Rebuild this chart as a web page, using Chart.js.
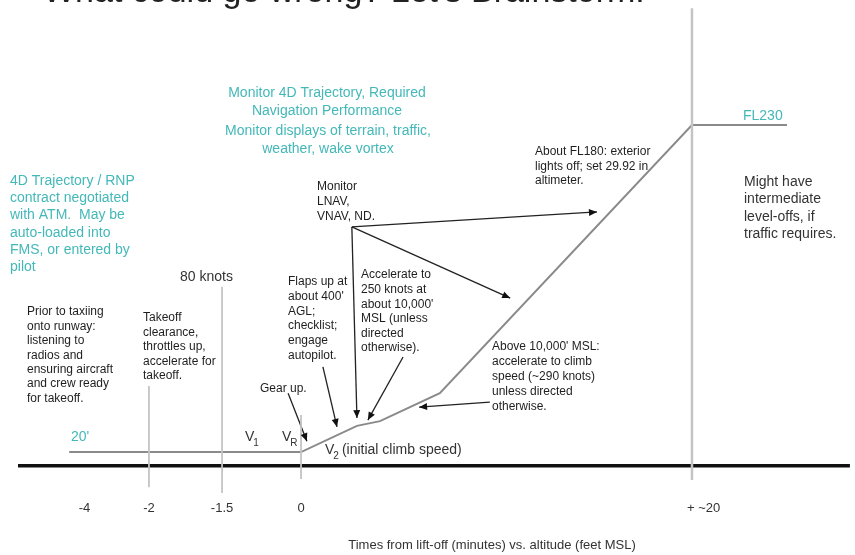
<!DOCTYPE html>
<html>
<head>
<meta charset="utf-8">
<script src="https://cdn.jsdelivr.net/npm/chart.js@4.4.1/dist/chart.umd.min.js"></script>
<style>
  html, body { margin: 0; padding: 0; background: #fff; }
  #wrap { width: 855px; height: 555px; }
</style>
</head>
<body>
<div id="wrap"><canvas id="profile" width="855" height="555"></canvas></div>
<script>
// Schematic units (diagram is not to scale):
// x: 0 = lift-off, 100 = top of climb (~20 min); y: 0 = ground, 100 = FL230
const tickLabels    = ['-4', '-2', '-1.5', '0', '+ ~20'];
const tickPositions = [-55.4, -38.9, -20.2, 0, 100];

const groundX = [-72.4, 140.4];
const groundY = [0, 0];

// runway roll, lift-off, climb segments, level-off at FL230
const profileX = [-59.3, 0, 14.3, 20.2, 35.5, 100, 124.3];
const profileY = [4.0, 4.0, 11.7, 13.1, 21.3, 100, 100];

// vertical event markers (-2, 80 knots / -1.5, lift-off, top of climb)
const markerX    = [-38.9, -20.2, 0, 100];
const markerLow  = [-6.3, -8.0, -3.9, -4.2];
const markerHigh = [23.4, 52.5, 14.9, 134.3];

// callout arrows, tail -> head
const arrowFromX = [-3.3, 5.6, 13.0, 13.0, 13.0, 26.1, 48.3];
const arrowFromY = [21.3, 29.0, 70.1, 70.1, 70.1, 31.9, 18.7];
const arrowToX   = [1.5, 9.2, 14.3, 75.7, 53.5, 17.1, 30.2];
const arrowToY   = [7.2, 11.4, 14.0, 74.5, 49.2, 13.4, 17.2];

const TEAL = '#44b8b8';
const INK  = '#1e1e1e';
const FONT = '"Liberation Sans", Arial, sans-serif';

// text blocks: [lines, x, y of first line centre, line height, size, colour, align]
const notes = [
  [['Monitor 4D Trajectory, Required', 'Navigation Performance'], 327, 93, 18, 14, TEAL, 'center'],
  [['Monitor displays of terrain, traffic,', 'weather, wake vortex'], 328, 131, 18, 14, TEAL, 'center'],
  [['4D Trajectory / RNP', 'contract negotiated', 'with ATM.  May be', 'auto-loaded into', 'FMS, or entered by', 'pilot'], 10, 181, 17.3, 14, TEAL, 'left'],
  [["20'"], 71, 437, 14, 14, TEAL, 'left'],
  [['FL230'], 743, 116, 14, 14, TEAL, 'left'],
  [['80 knots'], 180, 277, 14, 14, '#333', 'left'],
  [['Prior to taxiing', 'onto runway:', 'listening to', 'radios and', 'ensuring aircraft', 'and crew ready', 'for takeoff.'], 27, 312, 14.4, 12, INK, 'left'],
  [['Takeoff', 'clearance,', 'throttles up,', 'accelerate for', 'takeoff.'], 143, 318, 14.5, 12, INK, 'left'],
  [['Flaps up at', "about 400'", 'AGL;', 'checklist;', 'engage', 'autopilot.'], 288, 282, 14.7, 12, INK, 'left'],
  [['Gear up.'], 260, 389, 14, 12, INK, 'left'],
  [['Monitor', 'LNAV,', 'VNAV, ND.'], 317, 187, 15, 12, INK, 'left'],
  [['Accelerate to', '250 knots at', "about 10,000'", 'MSL (unless', 'directed', 'otherwise).'], 361, 275, 14.6, 12, INK, 'left'],
  [['About FL180: exterior', 'lights off; set 29.92 in', 'altimeter.'], 535, 152, 14.5, 12, INK, 'left'],
  [["Above 10,000' MSL:", 'accelerate to climb', 'speed (~290 knots)', 'unless directed', 'otherwise.'], 492, 347, 14.8, 12, INK, 'left'],
  [['Might have', 'intermediate', 'level-offs, if', 'traffic requires.'], 744, 182, 17.4, 14, '#333', 'left']
];

function drawLines(ctx, lines, x, y, lh, size, color, align) {
  ctx.font = size + 'px ' + FONT;
  ctx.fillStyle = color;
  ctx.textAlign = align;
  ctx.textBaseline = 'middle';
  lines.forEach((t, i) => ctx.fillText(t, x, y + i * lh));
}

// V-speed with subscript
function drawSpeed(ctx, sub, x, y, rest) {
  ctx.fillStyle = '#333';
  ctx.textAlign = 'left';
  ctx.textBaseline = 'middle';
  ctx.font = '14px ' + FONT;
  ctx.fillText('V', x, y);
  const w = ctx.measureText('V').width;
  ctx.font = '10px ' + FONT;
  ctx.fillText(sub, x + w - 1, y + 6);
  if (rest) {
    const sw = ctx.measureText(sub).width;
    ctx.font = '14px ' + FONT;
    ctx.fillText(rest, x + w + sw + 2, y);
  }
}

const overlay = {
  id: 'overlay',
  afterDatasetsDraw(chart) {
    const ctx = chart.ctx;
    const xs = chart.scales.x;

    // arrowheads on callouts
    chart.data.datasets.forEach((ds, i) => {
      if (!ds.arrow) return;
      const pts = chart.getDatasetMeta(i).data;
      const a = pts[pts.length - 2], b = pts[pts.length - 1];
      const ang = Math.atan2(b.y - a.y, b.x - a.x);
      ctx.save();
      ctx.translate(b.x, b.y);
      ctx.rotate(ang);
      ctx.beginPath();
      ctx.moveTo(0, 0);
      ctx.lineTo(-8, -3.5);
      ctx.lineTo(-8, 3.5);
      ctx.closePath();
      ctx.fillStyle = '#111';
      ctx.fill();
      ctx.restore();
    });

    ctx.save();
    // slide title, cut off by the top edge
    ctx.font = '34px ' + FONT;
    ctx.fillStyle = '#222';
    ctx.textAlign = 'left';
    ctx.textBaseline = 'alphabetic';
    ctx.fillText("What could go wrong? Let's Brainstorm!", 43, 2);

    notes.forEach(n => drawLines(ctx, ...n));

    drawSpeed(ctx, '1', 245, 437);
    drawSpeed(ctx, 'R', 282, 437);
    drawSpeed(ctx, '2', 325, 450, '(initial climb speed)');

    // time ticks
    ctx.font = '13px ' + FONT;
    ctx.fillStyle = '#333';
    ctx.textBaseline = 'middle';
    tickLabels.forEach((t, i) => {
      const px = xs.getPixelForValue(tickPositions[i]);
      if (i === tickLabels.length - 1) {
        ctx.textAlign = 'left';
        ctx.fillText(t, px - 5, 508);
      } else {
        ctx.textAlign = 'center';
        ctx.fillText(t, px, 508);
      }
    });
    ctx.textAlign = 'center';
    ctx.fillText('Times from lift-off (minutes) vs. altitude (feet MSL)', 492, 545);
    ctx.restore();
  }
};

const pts = (xs, ys) => xs.map((x, i) => ({ x, y: ys[i] }));

const datasets = [];
markerX.forEach((x, i) => {
  datasets.push({
    data: [{ x, y: markerLow[i] }, { x, y: markerHigh[i] }],
    borderColor: '#c4c4c4',
    borderWidth: i === markerX.length - 1 ? 2.5 : 1.8
  });
});
datasets.push({ data: pts(groundX, groundY), borderColor: '#111', borderWidth: 3.4 });
datasets.push({ data: pts(profileX, profileY), borderColor: '#8a8a8a', borderWidth: 2 });
arrowFromX.forEach((x, i) => {
  datasets.push({
    data: [{ x, y: arrowFromY[i] }, { x: arrowToX[i], y: arrowToY[i] }],
    borderColor: '#222',
    borderWidth: 1.3,
    arrow: true
  });
});

new Chart(document.getElementById('profile'), {
  type: 'scatter',
  data: { datasets: datasets.map(d => ({ showLine: true, pointRadius: 0, fill: false, tension: 0, ...d })) },
  options: {
    responsive: false,
    animation: false,
    layout: { padding: 0 },
    plugins: { legend: { display: false }, tooltip: { enabled: false } },
    scales: {
      x: { type: 'linear', display: false, min: -77, max: 141.7 },
      y: { type: 'linear', display: false, min: -26.2, max: 136.7 }
    }
  },
  plugins: [overlay]
});
</script>
</body>
</html>
